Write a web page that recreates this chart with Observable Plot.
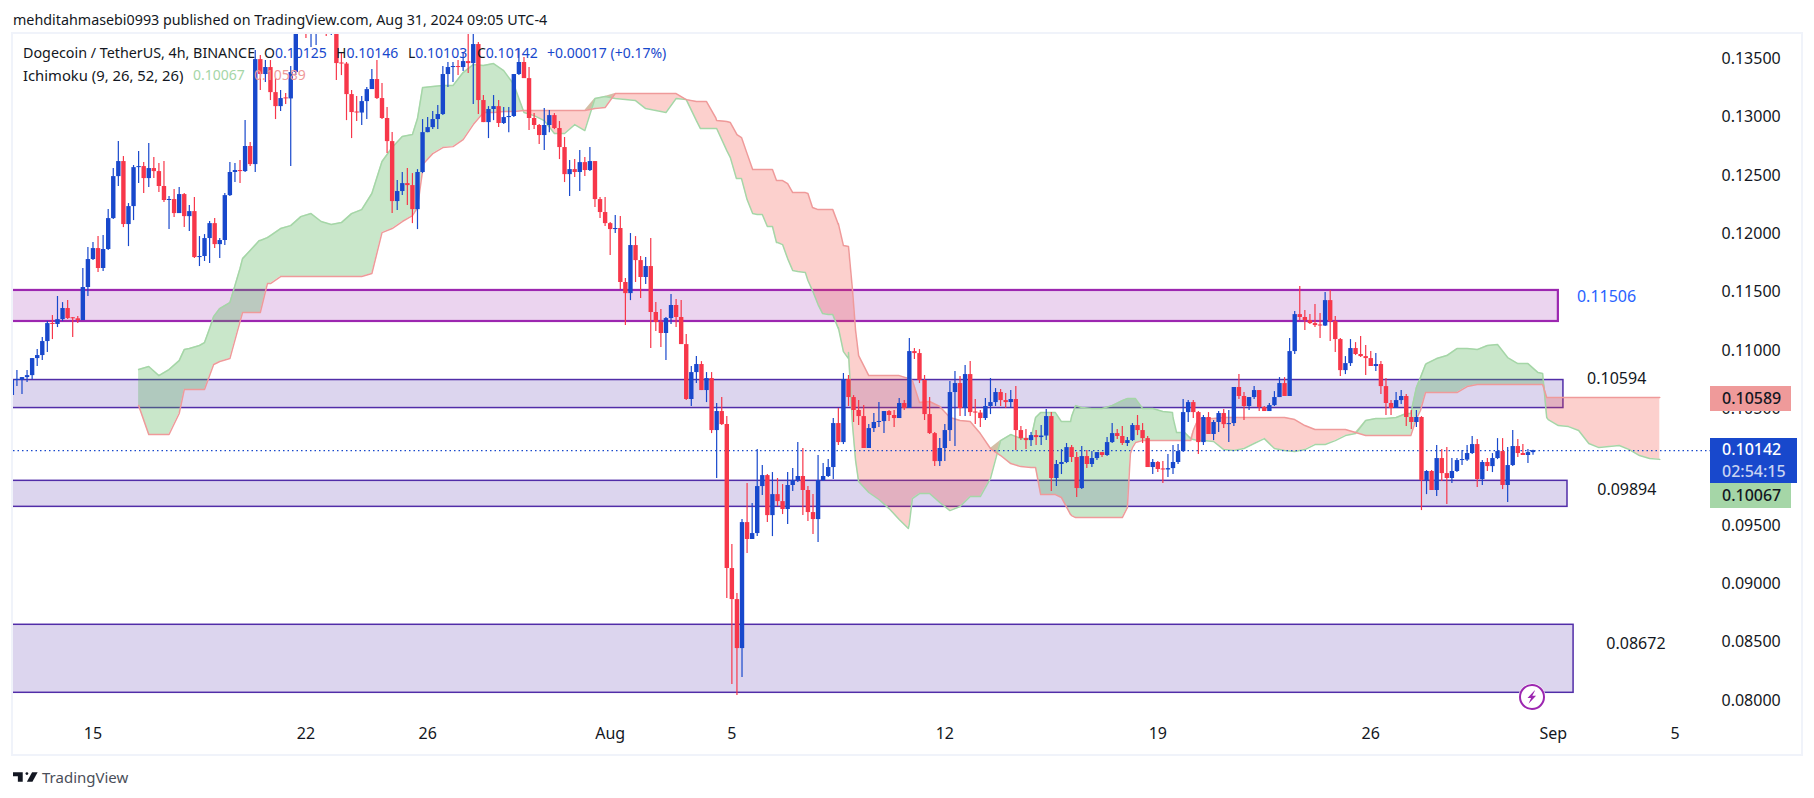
<!DOCTYPE html>
<html>
<head>
<meta charset="utf-8">
<script src="https://cdn.jsdelivr.net/npm/d3@7"></script>
<script src="https://cdn.jsdelivr.net/npm/@observablehq/plot@0.6"></script>
<style>
html,body{margin:0;padding:0;background:#fff;overflow:hidden}
#root{position:relative;width:1814px;height:798px;font-family:"Noto Sans",sans-serif;color:#131722;font-size:14px}
#root .t{position:absolute;white-space:nowrap;line-height:20px}
#root .b{color:#1848cc}
.box{position:absolute;font-size:16px;line-height:24px;padding-left:12px;box-sizing:border-box;font-weight:500}
#frame{position:absolute;left:11px;top:32px;width:1788px;height:720px;border:2px solid #f0f3fa}
</style>
</head>
<body>
<div id="root"><div id="frame"></div></div>
<script>
// 4h candles, first candle is index -16 relative to 15 Jul 00:00
const firstOpen = .10614;
const closes = [.10743,.10745,.10768,.10785,.10931,.10957,.11077,.11231,.11223,.11265,.11360,.11274,.11272,.11257,.11540,.11780,.11874,.11703,.11866,.12131,.12491,.12620,.12080,.12234,.12568,.12577,.12474,.12560,.12534,.12406,.12286,.12294,.12174,.12337,.12148,.12191,.11797,.11806,.11960,.12088,.11908,.11943,.12328,.12526,.12543,.12534,.12749,.12594,.13494,
.13366,.13426,.13211,.13091,.13160,.13157,.13383,.13829,.13880,.13811,.13846,.13897,.13846,.13811,.13846,.13460,.13456,.13194,.13040,.13036,.13134,.13237,.13323,.13160,.12989,.12791,.12277,.12363,.12431,.12414,.12208,.12526,.12868,.12911,.12980,.13023,.13366,.13426,.13430,.13426,.13477,.13460,.13623,.13143,.12954,.13066,.13091,.12946,.12997,.13006,.13366,.13469,.13331,.12989,.12929,.12843,.12929,.13014,.12903,.12740,.12508,.12551,.12526,.12611,.12543,.12620,.12294,.12183,.12088,.12037,.12046,.11583,.11488,.11900,.11771,.11626,.11720,.11326,.11240,.11146,.11274,.11386,.11283,.11051,.10580,.10811,.10880,.10657,.10760,.10314,.10477,.10365,.09131,.08865,.08445,.09525,.09380,.09431,.09834,.09928,.09585,.09765,.09705,.09637,.09843,.09885,.09920,.09800,.09611,.09551,.09885,.09920,.09997,.10374,.10211,.10751,.10597,.10486,.10434,.10160,.10331,.10383,.10391,.10477,.10443,.10417,.10546,.10503,.10991,.10974,.10743,.10451,.10288,.10048,.10160,.10314,.10640,.10717,.10503,.10794,.10468,.10464,.10417,.10520,.10554,.10640,.10571,.10554,.10580,.10314,.10245,.10228,.10271,.10254,.10267,.10434,.09903,.10023,.10040,.10168,.10083,.09817,.10091,.10023,.10074,.10125,.10100,.10211,.10288,.10263,.10203,.10228,.10357,.10314,.10245,.09997,.10040,.09980,.09976,.09988,.10040,.10134,.10468,.10554,.10468,.10211,.10426,.10280,.10383,.10460,.10365,.10374,.10683,.10606,.10520,.10597,.10657,.10511,.10477,.10528,.10597,.10717,.10606,.10991,.11308,.11283,.11257,.11231,.11214,.11210,.11428,.11248,.11094,.10828,.10888,.11017,.10966,.10948,.10931,.10863,.10880,.10691,.10546,.10503,.10571,.10606,.10426,.10383,.10426,.09885,.09963,.09800,.10074,.09945,.09903,.09963,.10057,.10061,.10117,.10194,.09894,.10040,.10005,.10074,.10134,.09843,.10014,.10177,.10117,.10100,.10125,.10142];
const highs = [.10743,.10828,.10768,.10828,.10931,.11008,.11111,.11248,.11300,.11463,.11411,.11428,.11283,.11291,.11703,.11883,.11926,.11977,.11986,.12208,.12560,.12791,.12663,.12260,.12586,.12706,.12611,.12774,.12654,.12603,.12620,.12320,.12380,.12397,.12346,.12243,.12311,.11977,.11994,.12106,.12131,.11960,.12346,.12611,.12603,.12628,.12971,.12783,.13571,
.13529,.13486,.13486,.13331,.13229,.13203,.13434,.13914,.13957,.13931,.13931,.13957,.13931,.13914,.13931,.13914,.13546,.13469,.13229,.13177,.13177,.13254,.13409,.13486,.13289,.13083,.12869,.12457,.12526,.12560,.12517,.12551,.12980,.12997,.13049,.13100,.13434,.13469,.13469,.13486,.13554,.13709,.13743,.13640,.13186,.13091,.13186,.13143,.13083,.13083,.13366,.13589,.13511,.13426,.13031,.12937,.13074,.13057,.13031,.12963,.12826,.12629,.12637,.12714,.12654,.12740,.12620,.12311,.12311,.12097,.12157,.12148,.11617,.12003,.11977,.11806,.11797,.11960,.11411,.11351,.11283,.11480,.11437,.11428,.11137,.10863,.10948,.10905,.10811,.10811,.10546,.10597,.10434,.09337,.08917,.09551,.09860,.09688,.10151,.10014,.09937,.09954,.09903,.09851,.09954,.09988,.10211,.10160,.09834,.09765,.10100,.10031,.10065,.10417,.10503,.10803,.10786,.10614,.10571,.10528,.10365,.10460,.10554,.10477,.10486,.10486,.10588,.10571,.11103,.11017,.11008,.10786,.10597,.10297,.10245,.10365,.10734,.10820,.10777,.10871,.10906,.10580,.10486,.10588,.10760,.10674,.10666,.10631,.10657,.10691,.10348,.10323,.10297,.10314,.10357,.10494,.10468,.10057,.10151,.10203,.10186,.10125,.10177,.10143,.10134,.10125,.10125,.10254,.10374,.10323,.10348,.10254,.10374,.10443,.10374,.10263,.10065,.10048,.10048,.10108,.10186,.10194,.10580,.10571,.10571,.10477,.10443,.10468,.10400,.10477,.10494,.10486,.10683,.10794,.10640,.10597,.10691,.10657,.10520,.10546,.10648,.10768,.10768,.11103,.11334,.11548,.11343,.11308,.11394,.11317,.11497,.11514,.11291,.11103,.10948,.11094,.11068,.11120,.11043,.10991,.10974,.10906,.10760,.10571,.10640,.10657,.10623,.10486,.10486,.10434,.09971,.09971,.10186,.10151,.10168,.10074,.10074,.10143,.10186,.10263,.10237,.10057,.10074,.10117,.10245,.10245,.10168,.10314,.10237,.10194,.10151,.10146];
const lows = [.10614,.10691,.10623,.10726,.10751,.10863,.10914,.10983,.11094,.11197,.11248,.11265,.11111,.11231,.11257,.11463,.11771,.11668,.11677,.11857,.12123,.12406,.12054,.11891,.12114,.12431,.12346,.12397,.12474,.12354,.12268,.12037,.12140,.12174,.12054,.12020,.11788,.11720,.11763,.11746,.11874,.11788,.11900,.12320,.12440,.12431,.12526,.12577,.12526,
.13229,.13297,.13143,.12980,.13049,.13109,.12577,.13357,.13786,.13674,.13597,.13614,.13760,.13691,.13700,.13314,.13357,.12971,.12817,.12963,.12929,.12980,.13237,.13151,.12980,.12688,.12174,.12200,.12328,.12243,.12088,.12037,.12517,.12868,.12894,.12894,.13014,.13254,.13297,.13357,.13391,.13374,.13109,.13023,.12954,.12817,.12971,.12911,.12937,.12868,.12997,.13357,.13331,.12886,.12894,.12766,.12714,.12868,.12894,.12637,.12440,.12320,.12483,.12363,.12491,.12534,.12226,.12131,.12063,.11814,.12003,.11523,.11214,.11428,.11583,.11446,.11566,.11017,.11163,.11026,.10914,.11223,.11197,.11051,.10571,.10520,.10717,.10657,.10554,.10288,.09903,.10357,.08874,.08137,.08043,.08197,.09260,.09380,.09405,.09757,.09525,.09405,.09663,.09594,.09508,.09791,.09868,.09585,.09534,.09423,.09354,.09877,.09911,.09894,.10185,.10194,.10520,.10383,.10357,.10160,.10160,.10297,.10340,.10288,.10391,.10340,.10417,.10486,.10503,.10923,.10717,.10400,.10280,.10005,.10005,.10048,.10220,.10177,.10434,.10434,.10434,.10365,.10340,.10400,.10451,.10520,.10520,.10503,.10503,.10143,.10228,.10151,.10177,.10186,.10186,.10228,.09791,.09834,.09937,.10031,.10040,.09740,.09808,.09988,.09997,.10057,.10083,.10091,.10203,.10237,.10186,.10177,.10220,.10271,.10203,.09997,.09937,.09954,.09860,.09911,.09937,.10023,.10125,.10383,.10417,.10108,.10186,.10280,.10228,.10297,.10331,.10211,.10348,.10580,.10400,.10486,.10580,.10477,.10477,.10477,.10520,.10597,.10606,.10606,.10966,.11257,.11171,.11223,.11197,.11103,.11206,.11077,.10983,.10777,.10794,.10863,.10957,.10940,.10785,.10863,.10820,.10623,.10443,.10443,.10503,.10537,.10348,.10323,.10340,.09628,.09765,.09800,.09748,.09877,.09680,.09860,.09954,.10014,.10048,.10108,.09826,.09843,.09963,.09954,.10065,.09808,.09697,.10005,.10083,.10100,.10031,.10103];

// Ichimoku leading spans, one reading every second candle from index 9
const spanA = [.10837,.10863,.10785,.10837,.10914,.11017,.11043,.11188,.11360,.11411,.11703,.11857,.11943,.11986,.12046,.12071,.12148,.12174,.12106,.12080,.12097,.12174,.12208,.12346,.12620,.12740,.12834,.12851,.13254,.13263,.13271,.13271,.13383,.13451,.13443,.13460,.13400,.13280,.13040,.13014,.12971,.12860,.12860,.12937,.12886,.13160,.13177,.13160,.13151,.13143,.13074,.13057,.13040,.13160,.13151,.12971,.12903,.12903,.12714,.12474,.12294,.12166,.12063,.11926,.11788,.11677,.11600,.11394,.11308,.11188,.10931,.09877,.09783,.09723,.09645,.09551,.09517,.09774,.09774,.09697,.09628,.09663,.09748,.09748,.09903,.10228,.10280,.10245,.10245,.10469,.10469,.10391,.10434,.10511,.10503,.10503,.10528,.10571,.10588,.10503,.10503,.10477,.10426,.10297,.10237,.10228,.10220,.10151,.10143,.10160,.10203,.10245,.10160,.10143,.10134,.10151,.10194,.10194,.10228,.10271,.10288,.10400,.10417,.10417,.10426,.10460,.10683,.10888,.10931,.10957,.11017,.11017,.11008,.11043,.11051,.10940,.10888,.10888,.10811,.10408,.10357,.10348,.10314,.10203,.10168,.10177,.10186,.10151,.10100,.10074,.10067];
const spanB = [.10528,.10280,.10280,.10280,.10460,.10665,.10665,.10785,.10906,.10931,.11248,.11326,.11326,.11574,.11634,.11634,.11634,.11634,.11634,.11634,.11634,.11634,.11634,.11660,.12011,.12046,.12106,.12157,.12543,.12688,.12740,.12748,.12808,.12937,.13040,.13040,.13049,.13049,.13057,.13057,.13057,.13057,.13057,.13057,.13057,.13074,.13083,.13203,.13203,.13203,.13203,.13203,.13203,.13203,.13151,.13134,.13134,.12971,.12963,.12851,.12688,.12551,.12551,.12457,.12431,.12354,.12346,.12208,.12208,.12080,.11891,.10957,.10785,.10785,.10785,.10785,.10760,.10554,.10563,.10520,.10426,.10400,.10391,.10288,.10160,.10100,.10031,.10005,.09997,.09765,.09765,.09740,.09585,.09568,.09568,.09568,.09568,.09568,.10168,.10228,.10228,.10228,.10228,.10228,.10314,.10417,.10417,.10426,.10426,.10426,.10426,.10426,.10426,.10426,.10408,.10357,.10323,.10323,.10323,.10323,.10297,.10271,.10271,.10271,.10271,.10271,.10417,.10640,.10640,.10640,.10640,.10691,.10708,.10708,.10708,.10708,.10708,.10708,.10708,.10597,.10597,.10597,.10597,.10597,.10597,.10597,.10597,.10597,.10597,.10597,.10597,.10597];
// Further readings at the corners of the cloud's steps
const stepCandles = [119.8,122.8,125.7,126.9,127.9,130.1,132,134,134.8,136,138,140.5,141.9,143.9,145.9,147,148,149,149.8,150.4,64,65.2,18,22,23.8,29.5,32.8,34.4,185.9,186.9,189.8,192.8,193.8,203,204,204.6,205.6,160.8,161.6,212.9,213.7,215.3,216.5,218,259.9,261.8,262.8,285.9,286.7];
const stepA = [.12903,.12903,.12654,.12474,.12474,.12174,.12166,.12063,.11926,.11908,.11686,.11668,.11514,.11317,.11308,.11197,.10991,.10983,.10357,.10057,.12989,.13254,.11008,.11068,.11291,.11788,.11943,.11968,.10426,.10468,.10468,.10391,.10528,.10571,.10588,.10588,.10588,.09474,.09731,.10468,.10297,.10297,.10245,.10228,.10460,.10768,.10880,.10803,.10426];
const stepB = [.13134,.12997,.12954,.12860,.12826,.12551,.12551,.12551,.12457,.12457,.12354,.12354,.12226,.12208,.12208,.12088,.11900,.11891,.11514,.11171,.12226,.12603,.10665,.10665,.10880,.11326,.11326,.11574,.09997,.09765,.09765,.09594,.09568,.09568,.09654,.10117,.10211,.10760,.10743,.10228,.10228,.10228,.10228,.10417,.10271,.10486,.10640,.10708,.10597];

// Drawn zones and their price notes
const zoneTops = [.11515,.10747,.09883,.08649];
const zoneBottoms = [.11249,.10507,.09660,.08066];
const zoneEndCandles = [289,290,290.8,292];
const noteTexts = ["0.11506","0.10594","0.09894","0.08672"];
const notePrices = [.11463,.10760,.09808,.08488];
const noteCandles = [298.5,300.5,302.5,304.3];

const priceTicks = [.08,.085,.09,.095,.105,.11,.115,.12,.125,.13,.135];
const dateTicks = [[2024,6,15,"15"],[2024,6,22,"22"],[2024,6,26,"26"],[2024,7,1,"Aug"],[2024,7,5,"5"],[2024,7,12,"12"],[2024,7,19,"19"],[2024,7,26,"26"],[2024,8,1,"Sep"],[2024,8,5,"5"]];
const lastPrice = .10142;

const BLUE="#1848cc", RED="#f7374a", GREEN_LINE="#a5d6a7", RED_LINE="#ef9a9a";
const H4 = 4*3600e3, T0 = Date.UTC(2024,6,15);
const at = i => new Date(T0 + i*H4);

const candles = closes.map((c,j)=>{
  const o = j ? closes[j-1] : firstOpen;
  const lo = Math.min(o,c);
  let hi = Math.max(o,c);
  if (hi-lo < .00009) hi = lo+.00009;
  return {t:at(j-16), high:highs[j], low:lows[j], bodyLo:lo, bodyHi:hi, color:c<o?RED:BLUE};
});
const cloud = [
  ...spanA.map((a,k)=>({t:at(9+2*k), a, b:spanB[k]})),
  ...stepCandles.map((i,k)=>({t:at(i), a:stepA[k], b:stepB[k]}))
].sort((p,q)=>p.t-q.t).map(p=>({...p, top:Math.max(p.a,p.b)}));
const zones = zoneTops.map((top,k)=>({top, bottom:zoneBottoms[k], end:at(zoneEndCandles[k]),
  color:k?"#512da8":"#9c27b0", w:k?1.5:2.2}));
const notes = noteTexts.map((text,k)=>({text, price:notePrices[k], t:at(noteCandles[k]), color:k?"#131722":"#2962ff"}));
const tickMap = new Map(dateTicks.map(([y,m,d,l])=>[+new Date(Date.UTC(y,m,d)),l]));

const chart = Plot.plot({
  width:1814, height:798,
  marginLeft:13, marginRight:103, marginTop:34, marginBottom:82,
  style:{fontFamily:'"Noto Sans",sans-serif',background:"transparent",color:"#131722"},
  color:{type:"identity"},
  x:{type:"utc",domain:[new Date(Date.UTC(2024,6,12,9,18)),new Date(Date.UTC(2024,8,6,4,48))]},
  y:{domain:[.08,.135],range:[700,58.4]},
  marks:[
    Plot.rect(zones,{x1:()=>at(-30),x2:"end",y1:"bottom",y2:"top",fill:"color",fillOpacity:.2,stroke:"color",strokeWidth:"w",clip:"frame"}),
    Plot.areaY(cloud,{x:"t",y1:"b",y2:"top",fill:"#4caf50",fillOpacity:.3}),
    Plot.areaY(cloud,{x:"t",y1:"a",y2:"top",fill:"#f44336",fillOpacity:.25}),
    Plot.lineY(cloud,{x:"t",y:"a",stroke:GREEN_LINE,strokeWidth:1.5}),
    Plot.lineY(cloud,{x:"t",y:"b",stroke:RED_LINE,strokeWidth:1.5}),
    Plot.ruleY([lastPrice],{stroke:BLUE,strokeWidth:1.2,strokeDasharray:"1.5,3"}),
    Plot.ruleX(candles,{x:"t",y1:"low",y2:"high",stroke:"color",strokeWidth:1.2,clip:"frame"}),
    Plot.ruleX(candles,{x:"t",y1:"bodyLo",y2:"bodyHi",stroke:"color",strokeWidth:4.4,clip:"frame"}),
    Plot.text(notes,{x:"t",y:"price",text:"text",fill:"color",fontSize:16,stroke:"none"}),
    Plot.axisY({ticks:priceTicks,anchor:"right",tickSize:0,tickPadding:10,tickFormat:d3.format(".5f"),fontSize:16,label:null,fill:"#131722"}),
    Plot.axisX({ticks:[...tickMap.keys()].map(k=>new Date(k)),anchor:"bottom",tickSize:0,tickPadding:11,tickFormat:d=>tickMap.get(+d),fontSize:16,label:null,fill:"#131722"})
  ]
});
chart.style.position="absolute"; chart.style.left="0"; chart.style.top="0";
const root = document.getElementById("root");
root.appendChild(chart);

function t(x,y,html,style){const e=document.createElement("div");e.className="t";e.style.left=x+"px";e.style.top=(y-10)+"px";e.innerHTML=html;if(style)e.style.cssText+=style;root.appendChild(e);}
t(13,20,"mehditahmasebi0993 published on TradingView.com, Aug 31, 2024 09:05 UTC-4","font-size:14.3px");
t(23,53,"Dogecoin / TetherUS, 4h, BINANCE","font-size:14.3px");
t(264,53,'O<span class="b">0.10125</span>');
t(336,53,'H<span class="b">0.10146</span>');
t(408,53,'L<span class="b">0.10103</span>');
t(477,53,'C<span class="b">0.10142</span>');
t(547,53,'<span class="b">+0.00017 (+0.17%)</span>');
t(23,75,"Ichimoku (9, 26, 52, 26)","font-size:14.8px");
t(193,75,"0.10067","color:#a5d6a7");
t(254,75,"0.10589","color:#ef9a9a");

function box(x,y,w,h,bg,html){const e=document.createElement("div");e.className="box";e.style.cssText=`left:${x}px;top:${y}px;width:${w}px;height:${h}px;background:${bg}`;e.innerHTML=html;root.appendChild(e);}
box(1710,386,81,25,"#ef9a9a","0.10589");
box(1710,438,87,45,"#1848cc",'<div style="color:#fff;line-height:22px">0.10142</div><div style="color:#c9d4f2;line-height:22px">02:54:15</div>');
box(1710,483,81,25,"#a5d6a7","0.10067");

root.insertAdjacentHTML("beforeend",`
<svg style="position:absolute;left:1518px;top:683px" width="28" height="28" viewBox="0 0 28 28">
<circle cx="14" cy="14" r="13.5" fill="#fff"/><circle cx="14" cy="14" r="12" fill="#fff" stroke="#9c27b0" stroke-width="2"/>
<path d="M16.5 7.5 9.5 15h3.6l-2.6 5.8 7.6-8h-3.8l2.7-5.3Z" fill="#9c27b0"/></svg>
<svg style="position:absolute;left:13px;top:771px" width="25" height="12" viewBox="0 6 36 14"><path d="M14 6H0v6h7v8h7V6Z" fill="#131722"/><circle cx="20" cy="8" r="2" fill="#131722"/><path d="M28 20h-8l7.5-14h8L28 20Z" fill="#131722"/></svg>
<div class="t" style="left:42px;top:767px;font-size:15px;color:#4a4e59">TradingView</div>`);
</script>
</body>
</html>
